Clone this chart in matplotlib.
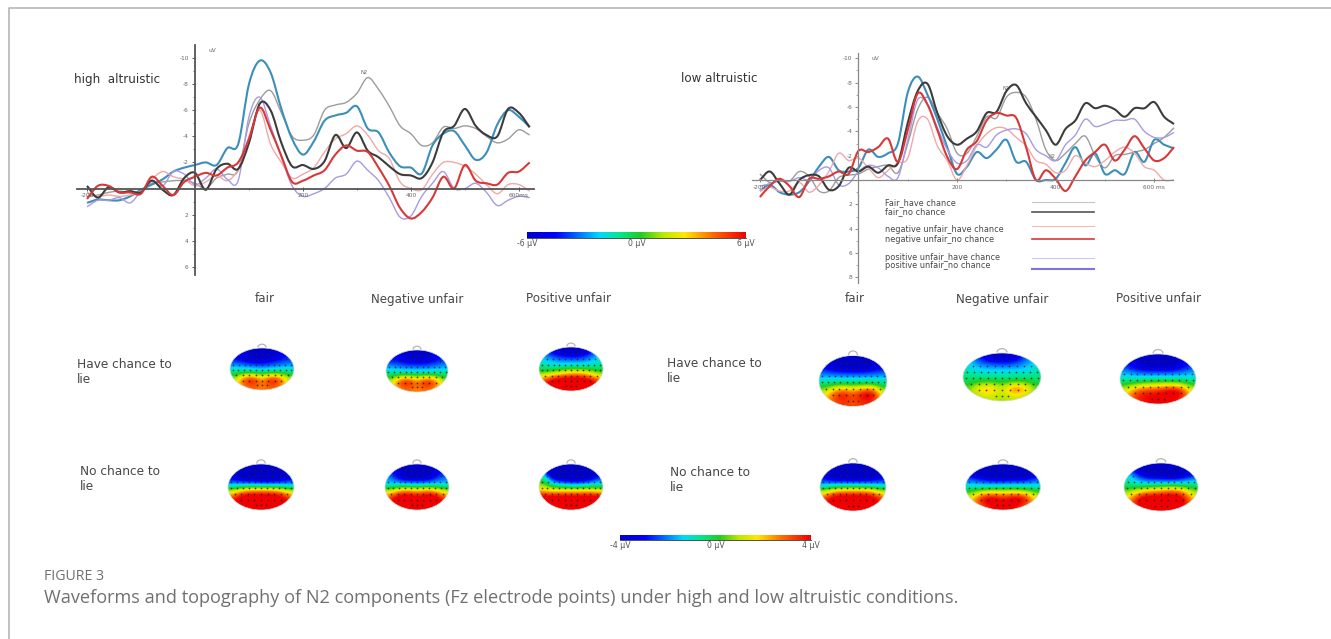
import numpy as np
import matplotlib
matplotlib.use("Agg")
import matplotlib.pyplot as plt
from matplotlib.colors import LinearSegmentedColormap
from matplotlib.patches import Ellipse, Arc, PathPatch
from matplotlib.path import Path

W, H = 1331, 639

# ---------- waveforms (uV, sampled every 20 ms) ----------
t_high = list(range(-200, 621, 20))
high_fair_have = [.6,.5,.3,.2,.3,.2,-.4,-.5,-.6,-.6,-.4,0,-.8,-1.1,-1.4,-5,-6.8,-7.5,-5.8,-4,-3.7,-4.1,-6,-6.4,-6.6,-7.3,-8.5,-7.6,-6.3,-4.8,-4.2,-3.3,-3.5,-4.7,-4.6,-4.8,-4.6,-4,-3.5,-3.8,-4.5,-4.1]
high_fair_no = [-.2,.7,-.1,.3,.2,.3,-.6,.1,.5,-.8,-1.2,.1,-1.5,-1.9,-1.5,-3.5,-6.5,-6,-3.5,-1.7,-1.8,-1.5,-2.1,-4.1,-3.1,-4.3,-2.9,-2.4,-1.7,-1.1,-1,-.8,-2,-4.3,-4.8,-6.1,-4.8,-4.1,-4,-6.1,-5.8,-4.7]
high_neg_have = [.3,.6,.5,.6,.5,.2,-.7,-1.3,-.9,-.7,-.2,-.5,-1,-.6,-1.5,-4,-6,-3.4,-2,-.8,-1.1,-1.6,-2.8,-3.8,-4.2,-4.8,-4.1,-2.9,-2.3,-.5,0,.1,-1.1,-2,-2,-1.7,-1.1,-.3,.4,-.3,-.3,.2]
high_neg_no = [.8,-.2,-.2,.3,.3,.4,-.9,-.2,.5,-.5,-.9,-1.2,-1,-1.6,-2,-3.8,-6.2,-4.5,-2.5,-.5,-.6,-1,-1.4,-2.6,-3.3,-2.9,-2.8,-1.6,-.2,1.5,2.3,1.8,.7,-.9,0,-1.8,-.6,-.4,-.3,-1.2,-1.3,-2]
high_pos_have = [1.4,.9,.9,.7,1.1,.2,-.6,-.2,-1.3,-1.1,-.3,-.8,-1.5,-.7,-.6,-5.5,-7,-4.8,-2.4,-.2,.6,.4,0,-.8,-1.1,-2.1,-1.4,-.6,.7,2.2,2.1,.6,-.4,-1.3,0,0,-.4,.3,1.3,.9,.6,.7]
high_pos_no = [1.1,.85,.9,.9,.6,.1,-.3,-.7,-1.3,-1.6,-1.8,-2,-1.8,-3.1,-3.4,-8,-9.8,-8.9,-6.1,-3.8,-2.6,-3.6,-5.2,-5.6,-5.8,-6.3,-4.6,-4.3,-2.75,-1.7,-1.6,-1.15,-3.3,-4.2,-4.4,-3.3,-2.2,-2.75,-4.9,-6,-5.5,-4.7]

t_low = list(range(-200, 641, 20))
low_fair_have = [-.5,.2,.1,.1,-.7,-.3,.9,.9,-.2,-.4,-.5,-.9,-1.1,-1.2,-.6,-3,-5.8,-6.8,-5.5,-4.2,-2.2,-2.2,-3.6,-5.2,-5.1,-6.8,-7.2,-6.8,-5,-2.5,-1.6,-2.2,-3,-3.6,-2,-1,-2,-2.1,-2.3,-2.5,-3,-3.5,-4.3]
low_fair_no = [0,-.7,.3,1.2,0,-.4,-.3,.8,.5,-1,-.7,-1.1,-.6,-1.2,-1.4,-4.7,-7.3,-7.9,-5.5,-3.6,-2.9,-3.4,-4,-5.5,-5.6,-7.3,-7.8,-6.3,-5.2,-4.1,-2.9,-4.2,-4.9,-6.3,-5.9,-6.1,-5.8,-5.2,-5.9,-5.9,-6.4,-5.2,-4.6]
low_neg_have = [.9,.6,.9,.9,.2,1,.4,-.7,-2.2,-1.6,-1.8,-1,-.2,-.8,-1.4,-1.8,-4.8,-5,-2.8,-1.6,0,-1.2,-2.8,-3.8,-4.3,-4.2,-3.5,-2.8,-1.6,-1.3,-.6,-.8,-2,-1.4,-1.1,-1.6,-2.3,-2.7,-2.2,-1.1,-.8,0,0]
low_neg_no = [1.4,.5,-.1,.5,1.4,-.1,-.1,-.3,-.7,-.5,-2.4,-2.3,-2.7,-3.4,-1.5,-4.1,-7.1,-6.2,-4.1,-1.9,-.9,-2.5,-3.2,-4.9,-5.5,-5.3,-5.1,-2.7,0,-.8,-.1,.9,-.3,-1.6,-2.3,-2.9,-1.6,-2.5,-3.6,-2.6,-1.6,-1.8,-2.7]
low_pos_have = [.5,.3,0,.1,-.2,0,-.8,-1,.4,.3,-.7,-1.2,-1,-.3,-.2,-3.3,-6.6,-6.2,-4.3,-2.5,-1.4,-1.6,-2.9,-2.7,-3.7,-4.1,-4.2,-3.8,-2.5,-2,-1.6,-2.9,-3.7,-5,-4.4,-4.6,-4.9,-4.9,-5,-4,-3.5,-3.5,-3.9]
low_pos_no = [.9,.4,1,1.2,1,.1,-1.1,-1.9,-.8,-.7,-1,-2.5,-1.9,-2.2,-3,-7.2,-8.5,-7,-5,-2.7,-.5,-1.1,-2.3,-1.8,-2.5,-3.3,-1.5,-1.5,0,0,-.1,-1.4,-2.7,-1.2,-2.2,-.5,-.8,-.5,-2.3,-1.5,-3.3,-2.9,-2.6]

series_colors = ["#9c9c9c", "#3a8fbb", "#f0a8a8", "#a79be2", "#3c3c3c", "#d93838"]
series_widths = [1.0, 1.5, 1.0, 1.0, 1.5, 1.5]

# ---------- scalp maps (uV, rows front to back) ----------
topo_high = {
 ("have", "fair"): [[-3,-3.5,-4,-4,-4,-3.5,-3],[-3,-3.5,-4,-4,-3.5,-3,-2.5],[-1.8,-2,-2.3,-2.5,-2.2,-2,-1.8],[-.4,-.2,-.3,-.4,-.3,-.2,-.4],[.8,3.5,4.5,2.2,4.5,3.5,.8],[1.5,2.5,3,2.5,3,2.5,1.5]],
 ("have", "neg"): [[-3,-3.5,-4,-4,-4,-3.5,-3],[-2.8,-3,-3.5,-3.5,-3.5,-3,-2.5],[-1.6,-1.9,-2.1,-2.1,-2.1,-1.9,-1.6],[-.4,-.3,-.3,-.3,-.3,-.3,-.4],[.8,3.5,4.5,2.5,4.5,3.5,.8],[1.5,2.5,2.8,2.5,2.8,2.5,1.5]],
 ("have", "pos"): [[-2.5,-3.5,-4,-4.5,-4.5,-3.5,-2],[-1.5,-2,-2.5,-2.5,-2.5,-2,-1.2],[-.7,-1.1,-1.1,-1.1,-1.1,-1.1,-.7],[.2,.6,1.3,1.9,1.9,1.3,.2],[3,4.5,5,5,5,4.5,3],[4,5,5,5,5,5,4]],
 ("no", "fair"): [[-4,-5,-5,-5,-5,-5,-4],[-3.5,-4.5,-4.8,-4.8,-4.8,-4.5,-3.5],[-2.2,-2.4,-2.5,-2.8,-2.8,-2.6,-2.2],[1,2.4,3,3,3,2.5,1],[3.5,5,5,5,5,5,3.5],[4,5,5,5,5,5,4]],
 ("no", "neg"): [[-3,-4,-5,-5,-5,-4,-3],[-1.8,-3.5,-4.5,-4.5,-4.5,-3,-2.2],[-1.7,-2,-2.2,-2.2,-2.2,-2,-1.7],[1,2.4,3,2.2,3,2.4,1],[3.5,5,5,4.5,5,5,3.5],[3.5,5,5,5,5,5,3.5]],
 ("no", "pos"): [[-4,-5,-5,-5,-5,-5,-4],[-.5,-4.5,-5,-5,-5,-4.5,-3],[.5,-1.4,-2,-2.5,-2.5,-2,-1.4],[2,1.8,2,2,2,2.2,1.5],[5,5,5,5,5,5,5],[5,5,5,5,5,5,5]],
}
topo_low = {
 ("have", "fair"): [[-3.5,-4.5,-5,-5,-5,-4.5,-3.5],[-3,-3.5,-4,-4,-4,-3.5,-3],[-1.7,-1.8,-1.8,-1.8,-1.8,-1.8,-1.7],[-.3,0,.1,.1,.1,.1,-.3],[1.2,3.2,4.3,3,4.5,5,1.2],[2,3,3.5,3,3.5,3.5,2]],
 ("have", "neg"): [[-1.5,-3,-4,-4.5,-4,-2.5,-1.5],[-1.2,-1.8,-2.1,-2.1,-2.1,-1.8,-1.2],[-.7,-1,-1,-1,-1,-1,-.7],[-.3,-.1,-.1,-.2,-.1,-.1,-.3],[.5,2.2,2.8,.9,3.5,2.8,.5],[.5,.9,1.1,.7,1.1,.9,.5]],
 ("have", "pos"): [[-3,-4,-5,-5,-5,-4,-3],[-2.5,-3.5,-4,-4,-4,-3.5,-2.5],[-1.4,-1.7,-1.8,-1.8,-1.8,-1.7,-1.4],[-.2,.1,.4,.6,.6,.4,-.2],[1.5,3.5,4,4,5,5,1.5],[2,3.5,4,4,4,3.5,2]],
 ("no", "fair"): [[-4,-5,-5,-5,-5,-5,-4],[-3.5,-4.5,-4.8,-4.8,-4.8,-4.5,-3.5],[-2.2,-2.4,-2.4,-2.4,-2.4,-2.4,-2.2],[.8,2.2,2.6,2.6,2.6,2.2,.8],[3.5,5,5,5,5,5,3.5],[3.5,5,5,5,5,5,3.5]],
 ("no", "neg"): [[-4,-5,-5,-5,-5,-5,-4],[-3,-4,-4.5,-4.5,-4.5,-4.5,-3],[-1.7,-2,-2.2,-2.2,-2,-2,-1.7],[0,.6,.9,1,.9,.7,0],[1.5,4.5,5,3.8,5,4.5,1.5],[2,3,4,4,4,3,2]],
 ("no", "pos"): [[-3,-5,-5,-5,-5,-5,-3],[-1,-3,-4,-4,-4.5,-4,-3],[-.8,-1.3,-1.5,-1.5,-1.5,-1.3,-.8],[.5,1.4,2.3,2.6,3.2,2.5,.5],[2,5,5,5,5,5,2],[2.5,4,5,5,5,4,2.5]],
}

# ---------- text ----------
legend_labels = ["Fair_have chance", "fair_no chance", "negative unfair_have chance",
                 "negative unfair_no chance", "positive unfair_have chance", "positive unfair_no chance"]
caption_head = "FIGURE 3"
caption = "Waveforms and topography of N2 components (Fz electrode points) under high and low altruistic conditions."

# ---------- layout helpers ----------
fig = plt.figure(figsize=(W / 100, H / 100), dpi=100, facecolor="white")
TXT = "#474747"

def px_axes(x0, y0, x1, y1, **kw):
    return fig.add_axes([x0 / W, 1 - y1 / H, (x1 - x0) / W, (y1 - y0) / H], **kw)

bespoke = LinearSegmentedColormap.from_list("bes", [
    (0.00, "#0000c8"), (0.13, "#0000ff"), (0.33, "#00d8ff"), (0.42, "#00e890"),
    (0.52, "#22cc22"), (0.62, "#b8e800"), (0.72, "#ffe800"), (0.85, "#ff6a00"), (1.00, "#f00000")])

over = px_axes(0, 0, W, H)
over.set_xlim(0, W); over.set_ylim(H, 0); over.axis("off")
over.plot([9, 9, W], [H, 7.5, 7.5], color="#b0b0b0", lw=1.1, clip_on=False)

def smooth_curve(ax, t, v, color, lw):
    """Draw a smooth Bezier curve that passes through every read value."""
    p = np.column_stack([t, v]).astype(float)
    tan = np.gradient(p, axis=0)
    verts = [p[0]]
    codes = [Path.MOVETO]
    for i in range(len(p) - 1):
        verts += [p[i] + tan[i] / 3, p[i + 1] - tan[i + 1] / 3, p[i + 1]]
        codes += [Path.CURVE4] * 3
    ax.add_patch(PathPatch(Path(verts, codes), fc="none", ec=color, lw=lw, clip_on=False, joinstyle="round"))

def wave(box, xlim, ylim, t, data, lw_axis, col_axis, yticks, x_labels, ulabel):
    ax = px_axes(*box, facecolor="none")
    ax.set_xlim(*xlim); ax.set_ylim(*ylim)
    for d, c, w in zip(data, series_colors, series_widths):
        smooth_curve(ax, t, d, c, w)
    for s in ("top", "right"):
        ax.spines[s].set_visible(False)
    ax.spines["left"].set_position(("data", 0))
    ax.spines["bottom"].set_position(("data", 0))
    for s in ("left", "bottom"):
        ax.spines[s].set_linewidth(lw_axis); ax.spines[s].set_color(col_axis)
    ax.set_yticks(yticks); ax.set_yticklabels([str(v) for v in yticks])
    ax.set_yticks(np.arange(yticks[0], yticks[-1] + 1, 1), minor=True)
    ax.set_xticks([-200, 200, 400, 600]); ax.set_xticklabels(x_labels)
    ax.set_xticks([100, 300, 500], minor=True)
    ax.tick_params(axis="both", which="major", labelsize=4.2, labelcolor="#666666", length=2.5, width=.7,
                   color=col_axis, pad=2)
    ax.tick_params(axis="both", which="minor", length=1.5, width=.5, color=col_axis)
    ax.tick_params(axis="x", which="both", direction="inout")
    ax.text(0.03 * (xlim[1] - xlim[0]), ulabel, "uV", fontsize=4.2, color="#666666", va="center")
    return ax

a1 = wave((77.3, 45, 534, 275), (-218, 628), (6.63, -11), t_high,
          [high_fair_have, high_pos_no, high_neg_have, high_pos_have, high_fair_no, high_neg_no],
          1.3, "#555555", [-10, -8, -6, -4, -2, 2, 4, 6], ["-200", "200", "400", "600ms"], -10.6)
a2 = wave((752, 52.7, 1173, 283), (-216, 638), (8.46, -10.46), t_low,
          [low_fair_have, low_pos_no, low_neg_have, low_pos_have, low_fair_no, low_neg_no],
          .9, "#888888", [-10, -8, -6, -4, -2, 2, 4, 6, 8], ["-200", "200", "400", "600 ms"], -10.0)
over.text(364, 73, "N2", fontsize=3.8, color="#666666", ha="center", va="center")
over.text(1006, 88, "N2", fontsize=3.5, color="#666666", ha="center", va="center")
over.text(1052, 157, "N2", fontsize=3.5, color="#666666", ha="center", va="center")

# legend inside the low-altruistic panel
leg_y = [202.7, 211.7, 230, 239, 257, 266]
leg_line_y = [201.7, 212, 226, 239, 258, 269]
leg_cols = ["#c9c0cf", "#555555", "#f4b8b8", "#d93838", "#cfc8ef", "#7f74d8"]
leg_w = [.8, 1.2, .8, 1.2, .8, 1.5]
for lab, y, ly, c, w in zip(legend_labels, leg_y, leg_line_y, leg_cols, leg_w):
    over.text(885, y, lab, fontsize=5.9, color=TXT, va="center", family="DejaVu Sans")
    over.plot([1032, 1094], [ly, ly], color=c, lw=w)

# headings
HEAD = 8.6
over.text(74, 79, "high  altruistic", fontsize=HEAD, color="#333333", va="center")
over.text(681, 79, "low altruistic", fontsize=HEAD, color="#333333", va="center")
for cx, cap in zip([265, 417, 569, 855, 1002, 1158],
                   ["fair", "Negative unfair", "Positive unfair"] * 2):
    over.text(cx, 299, cap, fontsize=8.6, color=TXT, ha="center", va="center")
for x, y, s in [(77, 372, "Have chance to\nlie"), (80, 479, "No chance to\nlie"),
                (667, 371, "Have chance to\nlie"), (670, 480, "No chance to\nlie")]:
    over.text(x, y, s, fontsize=8.7, color=TXT, va="center", linespacing=1.15)

# colour bars
def cbar(x0, x1, y0, y1, lo, hi, ylab):
    ax = px_axes(x0, y0, x1, y1)
    ax.imshow(np.linspace(lo, hi, 256)[None, :], cmap=bespoke, vmin=lo, vmax=hi, aspect="auto")
    ax.axis("off")
    over.plot([x0, x1], [y1, y1], color="#333333", lw=.6)
    for x, s in zip([x0, (x0 + x1) / 2, x1], [f"{lo} µV", "0 µV", f"{hi} µV"]):
        over.text(x, ylab, s, fontsize=5.6, color="#555555", ha="center", va="center")
cbar(527, 746, 232, 238, -6, 6, 243)
cbar(620, 811, 535, 540, -4, 4, 546)

# scalp maps
elec_y = [.72, .46, .2, -.05, -.3, -.55, -.78]
elec_n = [5, 9, 11, 11, 9, 7, 3]
elec_span = [.35, .75, .9, .92, .8, .6, .15]

def topo(cx, cy, rx, ry, grid):
    ax = px_axes(cx - rx, cy - ry, cx + rx, cy + ry, facecolor="none")
    ax.set_xlim(-1, 1); ax.set_ylim(-1, 1); ax.axis("off")
    ax.add_patch(Arc((0, 1.02), .26, .32, theta1=0, theta2=180, color="#b5b5b5", lw=.9, clip_on=False))
    im = ax.imshow(grid, cmap=bespoke, vmin=-4, vmax=4, extent=(-1, 1, -1, 1), aspect="auto",
                   interpolation="bicubic", origin="upper")
    e = Ellipse((0, 0), 2, 2, transform=ax.transData, fc="none", ec="#cfd8cf", lw=.5, clip_on=False)
    ax.add_patch(e)
    im.set_clip_path(e)
    for y, n, s in zip(elec_y, elec_n, elec_span):
        ax.scatter(np.linspace(-s, s, n), [y] * n, s=1.6, c="#222222", linewidths=0, alpha=.8)

centres_high = {("have", "fair"): (262, 369, 32, 21), ("have", "neg"): (417, 371, 31, 21), ("have", "pos"): (571, 369, 32, 22),
                ("no", "fair"): (261, 487, 33, 23), ("no", "neg"): (417, 487, 32, 23), ("no", "pos"): (571, 487, 32, 23)}
centres_low = {("have", "fair"): (853, 381, 34, 25.5), ("have", "neg"): (1002, 377, 39, 24), ("have", "pos"): (1158, 379, 38, 25),
               ("no", "fair"): (853, 487, 33, 24), ("no", "neg"): (1003, 487, 37.5, 23), ("no", "pos"): (1161, 487, 37, 24)}
for key, g in topo_high.items():
    topo(*centres_high[key], g)
for key, g in topo_low.items():
    topo(*centres_low[key], g)

# caption
over.text(44, 576, caption_head, fontsize=10.2, color="#707070", family="Open Sans", va="center")
over.text(44, 598, caption, fontsize=13.1, color="#707070", family="Open Sans", va="center")

fig.savefig("out.png", dpi=100, facecolor="white")
